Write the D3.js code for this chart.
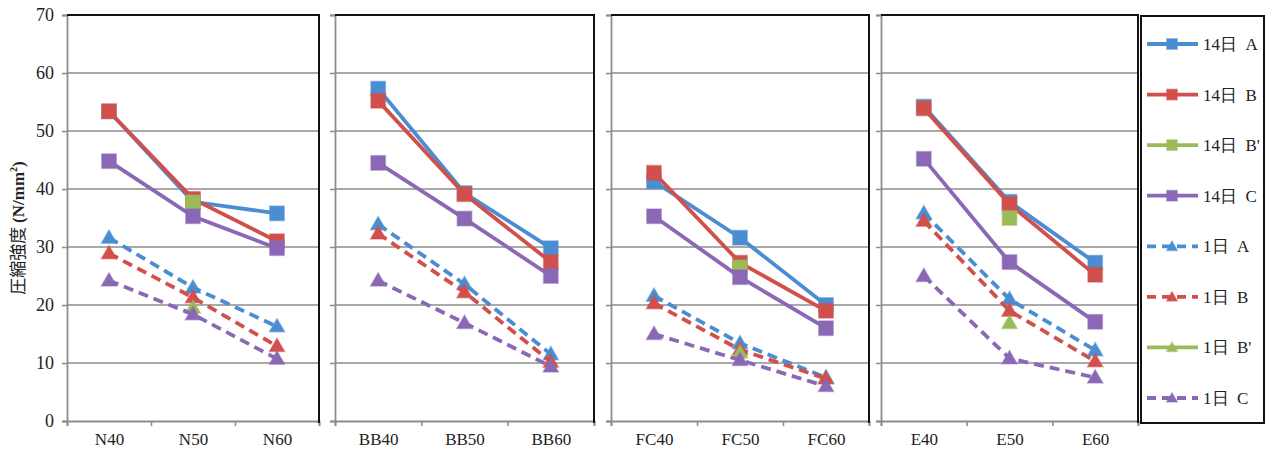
<!DOCTYPE html>
<html>
<head>
<meta charset="utf-8">
<script src="https://cdn.jsdelivr.net/npm/d3@7"></script>
<style>
  body { margin: 0; background: #fff; }
  svg text { font-family: "Liberation Serif", "Times New Roman", "DejaVu Serif", serif !important; }
  svg text tspan.jp { font-family: "Noto Sans CJK JP", sans-serif !important; }
</style>
</head>
<body>
<div id="chart"></div>
<script>
// mixes and their sub-categories
const groups = ["N", "BB", "FC", "E"];
const levels = ["40", "50", "60"];

// values in N/mm2, 12 per series (4 groups x 3 levels), null = not tested
const s14A  = [53.4, 37.8, 35.8, 57.3, 39.3, 29.8, 41.3, 31.6, 20.0, 54.2, 37.8, 27.3];
const s14B  = [53.4, 38.3, 31.0, 55.2, 39.1, 27.4, 42.8, 27.3, 19.0, 53.9, 37.4, 25.2];
const s14Bp = [null, 37.7, null, null, null, null, null, 26.5, null, null, 35.0, null];
const s14C  = [44.8, 35.3, 29.8, 44.5, 34.9, 25.0, 35.3, 24.8, 16.0, 45.2, 27.4, 17.1];
const s1A   = [31.6, 23.0, 16.3, 33.9, 23.6, 11.5, 21.6, 13.4, 7.5, 35.8, 21.0, 12.2];
const s1B   = [28.9, 21.3, 12.9, 32.3, 22.2, 10.2, 20.3, 12.3, 7.3, 34.5, 19.0, 10.3];
const s1Bp  = [null, 19.5, null, null, null, null, null, 11.8, null, null, 16.9, null];
const s1C   = [24.2, 18.4, 10.7, 24.2, 16.9, 9.4, 15.0, 10.5, 6.0, 25.0, 10.8, 7.5];

const seriesNames = ["14日\u00a0 A", "14日\u00a0 B", "14日\u00a0 B'", "14日\u00a0 C",
                     "1日\u00a0 A", "1日\u00a0 B", "1日\u00a0 B'", "1日\u00a0 C"];
const seriesValues = [s14A, s14B, s14Bp, s14C, s1A, s1B, s1Bp, s1C];
const yTicks = [0, 10, 20, 30, 40, 50, 60, 70];

// styling
const blue = "#4a8dd2", red = "#d1504c", green = "#9bbb59", purple = "#8a68b6";
const colors = [blue, red, green, purple, blue, red, green, purple];
const markers = ["square", "square", "square", "square", "tri", "tri", "tri", "tri"];
const dashed = [false, false, false, false, true, true, false, true];

const width = 1266, height = 453;
const plotTop = 15, plotBottom = 421;
const panelX = [[67, 319], [335, 594], [611, 869], [881, 1138]];

const svg = d3.select("#chart").append("svg")
  .attr("width", width).attr("height", height);

const y = d3.scaleLinear().domain([0, 70]).range([plotBottom, plotTop]);

function drawMarker(g, type, color, cx, cy, size) {
  if (type === "square") {
    g.append("rect")
      .attr("x", cx - size / 2).attr("y", cy - size / 2)
      .attr("width", size).attr("height", size)
      .attr("fill", color).attr("stroke", color).attr("stroke-opacity", 0.45).attr("stroke-width", 1.5);
  } else {
    const sym = d3.symbol().type(d3.symbolTriangle).size(size * size * 0.45);
    g.append("path")
      .attr("d", sym())
      .attr("transform", "translate(" + cx + "," + (cy + 1) + ")")
      .attr("fill", color).attr("stroke", color).attr("stroke-opacity", 0.45).attr("stroke-width", 1.5);
  }
}

groups.forEach((grp, gi) => {
  const [x0, x1] = panelX[gi];
  const g = svg.append("g");
  const x = d3.scalePoint().domain(levels.map(l => grp + l)).range([x0, x1]).padding(0.5);
  const xb = d3.scaleLinear().domain([0, 3]).range([x0, x1]);

  // gridlines
  g.selectAll(".grid").data(yTicks.slice(1, -1)).join("line")
    .attr("x1", x0).attr("x2", x1)
    .attr("y1", d => y(d)).attr("y2", d => y(d))
    .attr("stroke", "#8c8c8c").attr("stroke-width", 1.5);

  // left axis
  const ya = g.append("g").attr("transform", "translate(" + x0 + ",0)")
    .call(d3.axisLeft(y).tickValues(yTicks).tickSize(5).tickFormat(gi === 0 ? d3.format("d") : ""));
  ya.attr("font-family", null);
  ya.select(".domain").attr("stroke", "#8c8c8c").attr("stroke-width", 1.8);
  ya.selectAll(".tick line").attr("stroke", "#8c8c8c").attr("stroke-width", 1.5);
  ya.selectAll(".tick text").attr("x", -13).style("font-size", "18px").attr("fill", "#222");

  // bottom axis with boundary ticks
  const xa = g.append("g").attr("transform", "translate(0," + plotBottom + ")")
    .call(d3.axisBottom(xb).tickValues([0, 1, 2, 3]).tickSize(5).tickFormat(""));
  xa.select(".domain").attr("stroke", "#8c8c8c").attr("stroke-width", 1.8);
  xa.selectAll(".tick line").attr("stroke", "#8c8c8c").attr("stroke-width", 1.5);

  const xl = g.append("g").attr("transform", "translate(0," + plotBottom + ")")
    .call(d3.axisBottom(x).tickSize(0).tickPadding(12));
  xl.attr("font-family", null);
  xl.select(".domain").remove();
  xl.selectAll(".tick text").style("font-size", "17px").attr("fill", "#222");

  // top and right frame
  g.append("line").attr("x1", x0).attr("x2", x1 + 1).attr("y1", plotTop).attr("y2", plotTop)
    .attr("stroke", "#111").attr("stroke-width", 2);
  g.append("line").attr("x1", x1).attr("x2", x1).attr("y1", plotTop).attr("y2", plotBottom + 2)
    .attr("stroke", "#111").attr("stroke-width", 2);

  // series
  seriesValues.forEach((vals, si) => {
    const pts = levels.map((l, li) => ({ k: grp + l, v: vals[gi * 3 + li] }));
    const line = d3.line().defined(d => d.v !== null).x(d => x(d.k)).y(d => y(d.v));
    g.append("path").datum(pts)
      .attr("fill", "none").attr("stroke", colors[si]).attr("stroke-width", 3.8)
      .attr("stroke-dasharray", dashed[si] ? "10,6" : null)
      .attr("d", line);
    pts.filter(d => d.v !== null).forEach(d => {
      drawMarker(g, markers[si], colors[si], x(d.k), y(d.v), markers[si] === "square" ? 14.5 : 15);
    });
  });
});

// y axis title
const yt = svg.append("text")
  .attr("transform", "translate(24,228) rotate(-90)")
  .attr("text-anchor", "middle")
  .style("font-size", "17px").attr("fill", "#222");
yt.append("tspan").attr("class", "jp").text("圧縮強度 ");
yt.append("tspan").text("(N/mm").style("font-weight", "bold");
yt.append("tspan").text("2").style("font-weight", "bold").style("font-size", "10px").attr("dy", -7);
yt.append("tspan").text(")").style("font-weight", "bold").attr("dy", 7);

// legend
const lg = svg.append("g");
lg.append("rect").attr("x", 1141).attr("y", 16).attr("width", 123).attr("height", 407)
  .attr("fill", "none").attr("stroke", "#111").attr("stroke-width", 2);
const ly = d3.scalePoint().domain(seriesNames).range([44, 398]);
seriesNames.forEach((name, si) => {
  const cy = ly(name);
  lg.append("line").attr("x1", 1147).attr("x2", 1198).attr("y1", cy).attr("y2", cy)
    .attr("stroke", colors[si]).attr("stroke-width", 3.8)
    .attr("stroke-dasharray", dashed[si] ? "9,6" : null);
  drawMarker(lg, markers[si], colors[si], 1172, cy, 10.5);
  lg.append("text").attr("x", 1203).attr("y", cy).attr("dy", "0.35em")
    .style("font-size", "17px").attr("fill", "#222").text(name);
});
</script>
</body>
</html>
